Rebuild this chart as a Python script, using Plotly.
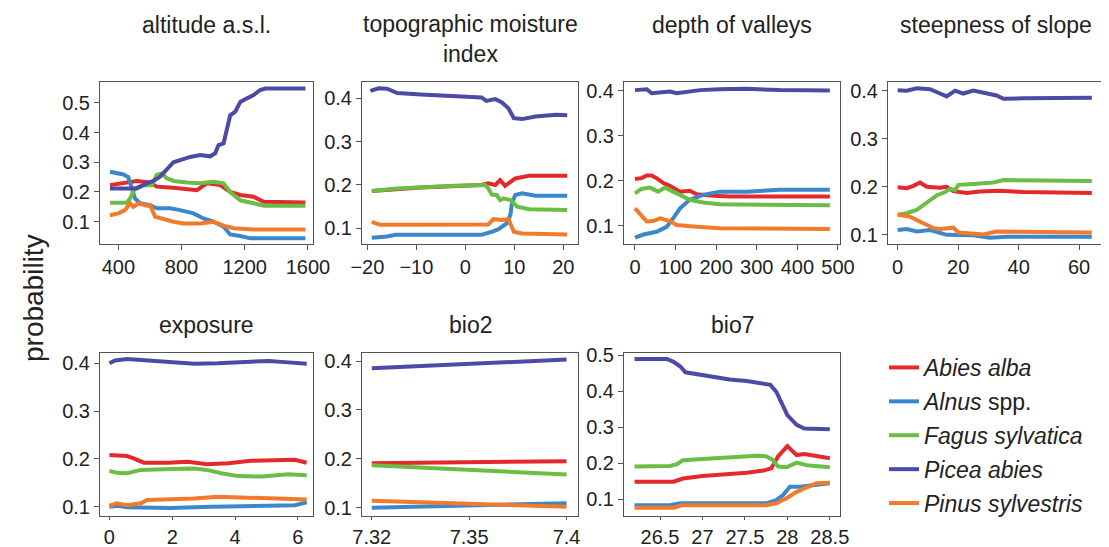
import plotly.graph_objects as go

# ---------------- data ----------------
species = ["Abies alba", "Alnus spp.", "Fagus sylvatica", "Picea abies", "Pinus sylvestris"]
legend_labels = ["<i>Abies alba</i>", "<i>Alnus</i> spp.", "<i>Fagus sylvatica</i>",
                 "<i>Picea abies</i>", "<i>Pinus sylvestris</i>"]
colors = ["#e5282c", "#3a88cb", "#6abd45", "#4b4aa5", "#f47a2b"]

panel_titles = ["altitude a.s.l.", "topographic moisture<br>index", "depth of valleys",
                "steepness of slope", "exposure", "bio2", "bio7"]

# altitude a.s.l.
alt_abies_x = [347, 410, 516, 601, 643, 749, 833, 897, 960, 1045, 1108, 1172, 1256, 1320, 1584]
alt_abies_y = [0.223, 0.229, 0.237, 0.232, 0.218, 0.214, 0.210, 0.206, 0.229, 0.223, 0.200, 0.190, 0.184, 0.167, 0.165]
alt_alnus_x = [347, 432, 463, 485, 506, 537, 601, 643, 728, 791, 876, 939, 1003, 1066, 1108, 1172, 1235, 1584]
alt_alnus_y = [0.268, 0.259, 0.250, 0.212, 0.178, 0.162, 0.156, 0.145, 0.145, 0.139, 0.128, 0.111, 0.100, 0.083, 0.057, 0.052, 0.044, 0.044]
alt_fagus_x = [347, 453, 474, 506, 559, 611, 643, 675, 707, 749, 833, 918, 1003, 1066, 1108, 1172, 1256, 1320, 1584]
alt_fagus_y = [0.164, 0.164, 0.178, 0.212, 0.223, 0.223, 0.257, 0.262, 0.246, 0.237, 0.232, 0.229, 0.234, 0.229, 0.200, 0.172, 0.162, 0.154, 0.154]
alt_picea_x = [347, 516, 580, 622, 664, 707, 749, 791, 855, 918, 981, 1013, 1034, 1066, 1087, 1108, 1140, 1172, 1214, 1256, 1298, 1330, 1584]
alt_picea_y = [0.212, 0.212, 0.229, 0.237, 0.251, 0.274, 0.300, 0.307, 0.318, 0.324, 0.320, 0.330, 0.358, 0.363, 0.414, 0.458, 0.470, 0.503, 0.515, 0.526, 0.543, 0.548, 0.548]
alt_pinus_x = [347, 400, 442, 474, 495, 527, 580, 601, 632, 685, 749, 812, 918, 1003, 1066, 1129, 1256, 1584]
alt_pinus_y = [0.122, 0.128, 0.139, 0.162, 0.150, 0.162, 0.154, 0.156, 0.117, 0.109, 0.100, 0.094, 0.094, 0.100, 0.087, 0.078, 0.074, 0.074]

# topographic moisture index
tmi_abies_x = [-19.1, -9.1, 3.3, 4.7, 6.1, 7.1, 8.1, 9.2, 10.2, 13.0, 20.8]
tmi_abies_y = [0.186, 0.194, 0.200, 0.204, 0.200, 0.211, 0.198, 0.206, 0.215, 0.221, 0.221]
tmi_alnus_x = [-19.1, -16.0, -14.3, 3.3, 5.4, 6.8, 8.5, 9.2, 9.5, 10.2, 11.6, 14.3, 20.8]
tmi_alnus_y = [0.078, 0.081, 0.085, 0.085, 0.092, 0.098, 0.112, 0.131, 0.158, 0.177, 0.181, 0.175, 0.175]
tmi_fagus_x = [-19.1, -13.9, -2.2, 4.0, 4.7, 5.4, 6.4, 7.1, 7.8, 9.2, 10.6, 13.0, 20.8]
tmi_fagus_y = [0.186, 0.192, 0.198, 0.200, 0.192, 0.178, 0.177, 0.165, 0.169, 0.165, 0.150, 0.144, 0.142]
tmi_picea_x = [-19.4, -17.7, -16.0, -13.9, -9.1, -2.2, 3.3, 4.3, 6.1, 7.4, 8.8, 9.9, 11.6, 14.3, 18.5, 20.8]
tmi_picea_y = [0.417, 0.423, 0.422, 0.412, 0.409, 0.406, 0.402, 0.394, 0.398, 0.391, 0.377, 0.354, 0.352, 0.358, 0.362, 0.361]
tmi_pinus_x = [-19.1, -17.4, -9.1, 4.7, 5.7, 7.4, 8.8, 9.9, 11.6, 20.8]
tmi_pinus_y = [0.115, 0.108, 0.108, 0.109, 0.121, 0.119, 0.121, 0.092, 0.088, 0.086]

# depth of valleys
dv_abies_x = [0, 16, 29, 41, 53, 70, 86, 111, 135, 152, 193, 234, 480]
dv_abies_y = [0.204, 0.206, 0.212, 0.212, 0.206, 0.195, 0.189, 0.176, 0.178, 0.170, 0.167, 0.165, 0.165]
dv_alnus_x = [0, 21, 53, 78, 94, 111, 135, 168, 209, 275, 357, 480]
dv_alnus_y = [0.074, 0.081, 0.087, 0.098, 0.117, 0.139, 0.158, 0.169, 0.176, 0.176, 0.180, 0.180]
dv_fagus_x = [0, 16, 37, 57, 74, 103, 135, 168, 209, 480]
dv_fagus_y = [0.172, 0.182, 0.185, 0.176, 0.185, 0.172, 0.158, 0.152, 0.148, 0.146]
dv_picea_x = [0, 29, 41, 62, 86, 103, 135, 160, 209, 275, 357, 480]
dv_picea_y = [0.401, 0.403, 0.394, 0.396, 0.398, 0.394, 0.399, 0.401, 0.403, 0.404, 0.401, 0.400]
dv_pinus_x = [0, 12, 29, 45, 62, 86, 103, 152, 209, 480]
dv_pinus_y = [0.139, 0.128, 0.110, 0.111, 0.117, 0.111, 0.102, 0.098, 0.095, 0.093]

# steepness of slope
sl_abies_x = [0, 3, 5.2, 7.4, 9.6, 14, 16.2, 18.4, 22.8, 27.2, 33.8, 41.6, 64.2]
sl_abies_y = [0.199, 0.197, 0.202, 0.209, 0.200, 0.198, 0.200, 0.191, 0.187, 0.190, 0.192, 0.189, 0.187]
sl_alnus_x = [0, 3, 6.3, 10.7, 16.2, 25, 30.5, 36, 64.2]
sl_alnus_y = [0.110, 0.112, 0.107, 0.110, 0.100, 0.099, 0.094, 0.096, 0.096]
sl_fagus_x = [0, 3, 6.3, 9.6, 12.9, 15.7, 17.3, 19, 20.1, 25, 31.6, 35, 64.2]
sl_fagus_y = [0.142, 0.145, 0.152, 0.166, 0.182, 0.189, 0.196, 0.193, 0.204, 0.206, 0.209, 0.214, 0.212]
sl_picea_x = [0, 3, 6.3, 10.7, 14, 16.2, 19, 21.7, 25, 29.4, 32.7, 35, 41.6, 64.2]
sl_picea_y = [0.401, 0.400, 0.405, 0.403, 0.394, 0.388, 0.400, 0.394, 0.400, 0.394, 0.390, 0.383, 0.384, 0.385]
sl_pinus_x = [0, 4, 8.5, 11.8, 14, 16.2, 18.4, 20.1, 25, 28.3, 32.7, 64.2]
sl_pinus_y = [0.142, 0.138, 0.124, 0.114, 0.112, 0.114, 0.115, 0.105, 0.103, 0.101, 0.107, 0.105]

# exposure
ex_abies_x = [0, 0.56, 0.77, 1.1, 1.85, 2.5, 3.1, 3.78, 4.5, 5.4, 5.9, 6.28]
ex_abies_y = [0.208, 0.206, 0.201, 0.192, 0.192, 0.194, 0.189, 0.191, 0.196, 0.196, 0.198, 0.192]
ex_alnus_x = [0, 0.29, 0.56, 1.2, 1.95, 3.24, 4.3, 5.4, 5.9, 6.28]
ex_alnus_y = [0.100, 0.102, 0.099, 0.098, 0.097, 0.100, 0.102, 0.102, 0.103, 0.109]
ex_fagus_x = [0, 0.24, 0.56, 1.0, 1.95, 2.7, 3.1, 3.56, 4.1, 4.85, 5.7, 6.28]
ex_fagus_y = [0.175, 0.171, 0.170, 0.177, 0.179, 0.180, 0.177, 0.170, 0.164, 0.163, 0.168, 0.166]
ex_picea_x = [0, 0.18, 0.56, 1.2, 1.95, 2.7, 3.45, 4.3, 5.06, 5.7, 6.28]
ex_picea_y = [0.400, 0.406, 0.409, 0.406, 0.402, 0.399, 0.400, 0.403, 0.405, 0.402, 0.399]
ex_pinus_x = [0, 0.24, 0.56, 1.0, 1.2, 1.95, 2.7, 3.45, 4.2, 5.06, 6.28]
ex_pinus_y = [0.102, 0.107, 0.103, 0.107, 0.114, 0.115, 0.117, 0.121, 0.119, 0.117, 0.115]

# bio2
b2_x = [7.32, 7.40]
b2_abies_y = [0.191, 0.195]
b2_alnus_y = [0.100, 0.109]
b2_fagus_y = [0.187, 0.168]
b2_picea_y = [0.385, 0.403]
b2_pinus_y = [0.114, 0.102]

# bio7
b7_abies_x = [26.2, 26.66, 26.77, 27.0, 27.52, 27.72, 27.81, 27.89, 28.0, 28.11, 28.2, 28.5]
b7_abies_y = [0.148, 0.148, 0.157, 0.164, 0.173, 0.179, 0.185, 0.218, 0.247, 0.222, 0.225, 0.213]
b7_alnus_x = [26.2, 26.62, 26.74, 27.75, 27.87, 27.95, 28.03, 28.15, 28.5]
b7_alnus_y = [0.083, 0.083, 0.088, 0.088, 0.097, 0.111, 0.134, 0.134, 0.144]
b7_fagus_x = [26.2, 26.62, 26.7, 26.77, 27.0, 27.32, 27.64, 27.75, 27.83, 27.89, 27.99, 28.11, 28.23, 28.5]
b7_fagus_y = [0.190, 0.192, 0.197, 0.208, 0.211, 0.216, 0.220, 0.219, 0.208, 0.190, 0.188, 0.201, 0.194, 0.188]
b7_picea_x = [26.2, 26.58, 26.66, 26.74, 26.8, 27.0, 27.32, 27.52, 27.68, 27.8, 27.87, 27.93, 28.0, 28.11, 28.2, 28.5]
b7_picea_y = [0.489, 0.489, 0.481, 0.468, 0.452, 0.444, 0.432, 0.428, 0.421, 0.417, 0.398, 0.370, 0.333, 0.306, 0.296, 0.294]
b7_pinus_x = [26.2, 26.66, 26.77, 27.75, 27.87, 27.99, 28.11, 28.23, 28.34, 28.5]
b7_pinus_y = [0.076, 0.076, 0.083, 0.083, 0.088, 0.102, 0.120, 0.134, 0.144, 0.145]

panels = [
    [(alt_abies_x, alt_abies_y), (alt_alnus_x, alt_alnus_y), (alt_fagus_x, alt_fagus_y),
     (alt_picea_x, alt_picea_y), (alt_pinus_x, alt_pinus_y)],
    [(tmi_abies_x, tmi_abies_y), (tmi_alnus_x, tmi_alnus_y), (tmi_fagus_x, tmi_fagus_y),
     (tmi_picea_x, tmi_picea_y), (tmi_pinus_x, tmi_pinus_y)],
    [(dv_abies_x, dv_abies_y), (dv_alnus_x, dv_alnus_y), (dv_fagus_x, dv_fagus_y),
     (dv_picea_x, dv_picea_y), (dv_pinus_x, dv_pinus_y)],
    [(sl_abies_x, sl_abies_y), (sl_alnus_x, sl_alnus_y), (sl_fagus_x, sl_fagus_y),
     (sl_picea_x, sl_picea_y), (sl_pinus_x, sl_pinus_y)],
    [(ex_abies_x, ex_abies_y), (ex_alnus_x, ex_alnus_y), (ex_fagus_x, ex_fagus_y),
     (ex_picea_x, ex_picea_y), (ex_pinus_x, ex_pinus_y)],
    [(b2_x, b2_abies_y), (b2_x, b2_alnus_y), (b2_x, b2_fagus_y),
     (b2_x, b2_picea_y), (b2_x, b2_pinus_y)],
    [(b7_abies_x, b7_abies_y), (b7_alnus_x, b7_alnus_y), (b7_fagus_x, b7_fagus_y),
     (b7_picea_x, b7_picea_y), (b7_pinus_x, b7_pinus_y)],
]

x_tickvals = [[400, 800, 1200, 1600], [-20, -10, 0, 10, 20], [0, 100, 200, 300, 400, 500],
              [0, 20, 40, 60], [0, 2, 4, 6], [7.32, 7.36, 7.40], [26.5, 27, 27.5, 28, 28.5]]
x_ticktext = [None, None, None, None, None, ["7.32", "7.35", "7.4"], ["26.5", "27", "27.5", "28", "28.5"]]
y_tickvals = [[0.1, 0.2, 0.3, 0.4, 0.5], [0.1, 0.2, 0.3, 0.4], [0.1, 0.2, 0.3, 0.4], [0.1, 0.2, 0.3, 0.4],
              [0.1, 0.2, 0.3, 0.4], [0.1, 0.2, 0.3, 0.4], [0.1, 0.2, 0.3, 0.4, 0.5]]

# ---------------- layout ----------------
OFF = 8  # page body margin
W, H = 1109 - OFF, 547 - OFF
x_ranges = [[284, 1632], [-21.1, 23.0], [-27, 505], [-3.2, 67.9], [-0.3, 6.48], [7.316, 7.4047], [26.076, 28.62]]
y_ranges = [[0.025, 0.57], [0.0638, 0.4376], [0.060, 0.419], [0.081, 0.418], [0.0805, 0.4216], [0.083, 0.4164], [0.0528, 0.5056]]
col_px = [(100, 313), (362, 578), (624, 840), (888, 1103)]
row_px = [(82, 244), (353, 516)]
title_cy = [25, 38.5, 25, 25, 325, 325, 325]
positions = [(0, 0), (0, 1), (0, 2), (0, 3), (1, 0), (1, 1), (1, 2)]


def px(v):
    return (v - OFF) / W


def py(v):
    return 1 - (v - OFF) / H


FONT = "Liberation Sans, Arial, sans-serif"
fig = go.Figure()
layout = dict(
    template="none",
    width=W, height=H, margin=dict(l=0, r=0, t=0, b=0, pad=0, autoexpand=False),
    paper_bgcolor="white", plot_bgcolor="white",
    font=dict(family=FONT, size=20, color="#222222"),
    showlegend=True,
    legend=dict(x=px(884), y=py(346), xanchor="left", yanchor="top",
                font=dict(size=23, color="#222222"), tracegroupgap=1,
                bgcolor="rgba(0,0,0,0)", itemwidth=30),
)
annotations = []
for i, (r, c) in enumerate(positions):
    ax = "" if i == 0 else str(i + 1)
    x0, x1 = col_px[c]
    y0, y1 = row_px[r]
    common = dict(showgrid=False, zeroline=False, showline=True, linecolor="#555555", linewidth=1,
                  mirror=True, ticks="outside", ticklen=5, tickcolor="#555555", automargin=False,
                  tickfont=dict(size=20, color="#222222"))
    xa = dict(common, domain=[px(x0), px(x1)], range=x_ranges[i], tickvals=x_tickvals[i],
              anchor="y" + ax, ticklen=(5 if r == 0 else 3))
    if x_ticktext[i]:
        xa["ticktext"] = x_ticktext[i]
    ya = dict(common, domain=[py(y1), py(y0)], range=y_ranges[i], tickvals=y_tickvals[i],
              anchor="x" + ax)
    layout["xaxis" + ax] = xa
    layout["yaxis" + ax] = ya
    for k in range(5):
        xs, ys = panels[i][k]
        fig.add_trace(go.Scatter(x=xs, y=ys, mode="lines", xaxis="x" + ax, yaxis="y" + ax,
                                 line=dict(color=colors[k], width=4),
                                 name=legend_labels[k], legendgroup=species[k],
                                 showlegend=(i == 0)))
    annotations.append(dict(text=panel_titles[i], xref="paper", yref="paper",
                            x=px((x0 + x1) / 2), y=py(title_cy[i]), xanchor="center", yanchor="middle",
                            showarrow=False, font=dict(size=23, color="#222222")))

annotations.append(dict(text="probability", xref="paper", yref="paper", x=px(33), y=py(298),
                        xanchor="center", yanchor="middle", textangle=-90, showarrow=False,
                        font=dict(size=28, color="#222222")))
layout["annotations"] = annotations
fig.update_layout(**layout)
fig.write_html("out.html")
